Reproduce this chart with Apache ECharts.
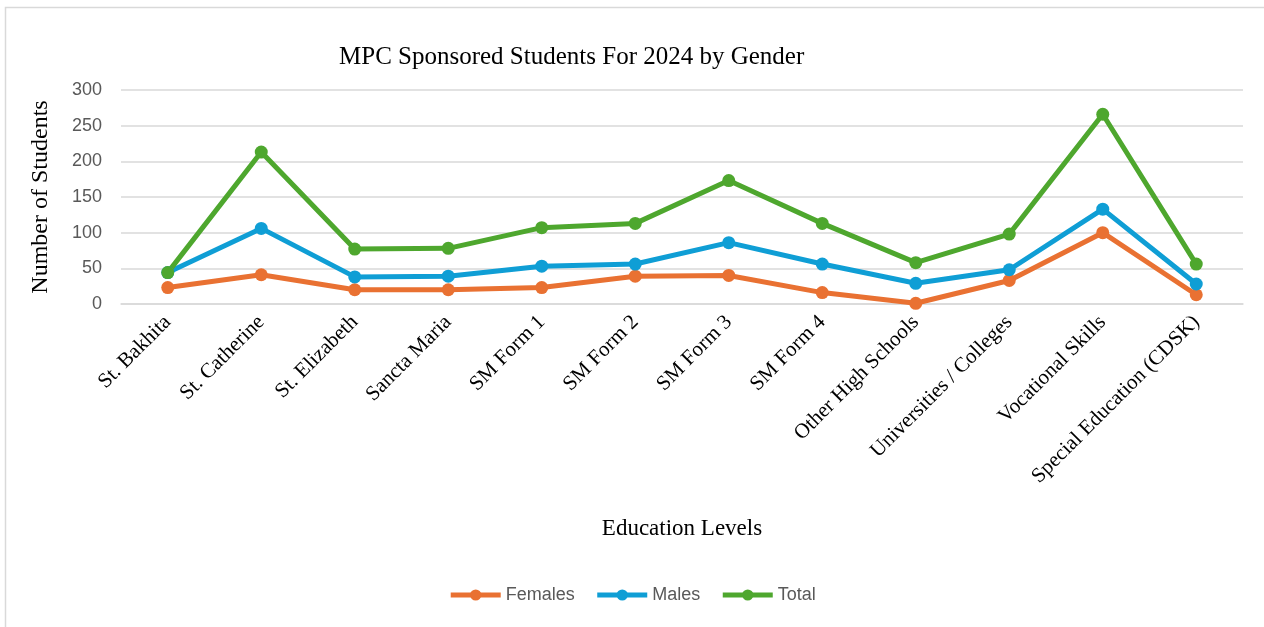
<!DOCTYPE html>
<html lang="en">
<head>
    <meta charset="UTF-8">
    <title>chart</title>
    <script src="https://cdn.jsdelivr.net/npm/echarts@6/dist/echarts.min.js"></script>
    <style>
        html, body {
            margin: 0;
            height: 100%;
        }
        #app {
            width: 1264px;
            height: 627px;
        }
    </style>
</head>
<body>
<div id="app"></div>
<script>
    var categories = ['St. Bakhita', 'St. Catherine', 'St. Elizabeth', 'Sancta Maria', 'SM Form 1', 'SM Form 2',
        'SM Form 3', 'SM Form 4', 'Other High Schools', 'Universities / Colleges', 'Vocational Skills',
        'Special Education (CDSK)'];
    var females = [23, 41, 20, 20, 23, 39, 40, 16, 1, 33, 100, 13];
    var males = [44, 106, 38, 39, 53, 56, 86, 56, 29, 48, 133, 28];
    var total = [44, 213, 77, 78, 107, 113, 173, 113, 58, 98, 266, 56];
    var yTicks = [0, 300, 50];  // min, max, interval

    var serif = '"Liberation Serif", "DejaVu Serif", serif';
    var sans = '"Liberation Sans", Arial, sans-serif';

    function line(name, color, data) {
        return {
            name: name,
            type: 'line',
            data: data,
            symbol: 'circle',
            symbolSize: 13,
            lineStyle: {width: 5, color: color},
            itemStyle: {color: color},
            animation: false
        };
    }

    var option = {
        backgroundColor: '#fff',
        title: {
            text: 'MPC Sponsored Students For 2024 by Gender',
            left: 334,
            top: 40,
            textStyle: {fontFamily: serif, fontWeight: 'normal', fontSize: 25, color: '#000'}
        },
        legend: {
            bottom: 18,
            left: 'center',
            itemWidth: 50,
            itemHeight: 14,
            itemGap: 20,
            lineStyle: {width: 5},
            textStyle: {fontFamily: sans, fontSize: 18, color: '#595959'},
            data: ['Females', 'Males', 'Total']
        },
        grid: {
            left: 121,
            right: 21,
            top: 90,
            bottom: 323,
            containLabel: false
        },
        xAxis: {
            type: 'category',
            data: categories,
            name: 'Education Levels',
            nameLocation: 'middle',
            nameGap: 213,
            nameTextStyle: {fontFamily: serif, fontSize: 23, color: '#000'},
            axisTick: {show: false},
            axisLine: {lineStyle: {color: '#d9d9d9', width: 1.5}},
            axisLabel: {
                rotate: 45,
                margin: 15,
                interval: 0,
                fontFamily: serif,
                fontSize: 21,
                color: '#000'
            }
        },
        yAxis: {
            type: 'value',
            min: yTicks[0],
            max: yTicks[1],
            interval: yTicks[2],
            name: 'Number of Students',
            nameLocation: 'middle',
            nameGap: 68,
            nameTextStyle: {fontFamily: serif, fontSize: 24, color: '#000'},
            axisLine: {show: false},
            axisTick: {show: false},
            axisLabel: {fontFamily: sans, fontSize: 18, color: '#595959', margin: 19},
            splitLine: {lineStyle: {color: '#d9d9d9', width: 1.5}}
        },
        graphic: [
            { // chart area border, only left and top edges show
                type: 'rect',
                shape: {x: 5.5, y: 7.5, width: 1400, height: 800},
                style: {fill: null, stroke: '#d9d9d9', lineWidth: 1.5},
                silent: true
            }
        ],
        series: [
            line('Females', '#E97132', females),
            line('Males', '#0F9ED5', males),
            line('Total', '#4EA72E', total)
        ]
    };

    var myChart = echarts.init(document.getElementById('app'));
    myChart.setOption(option);
</script>
</body>
</html>
